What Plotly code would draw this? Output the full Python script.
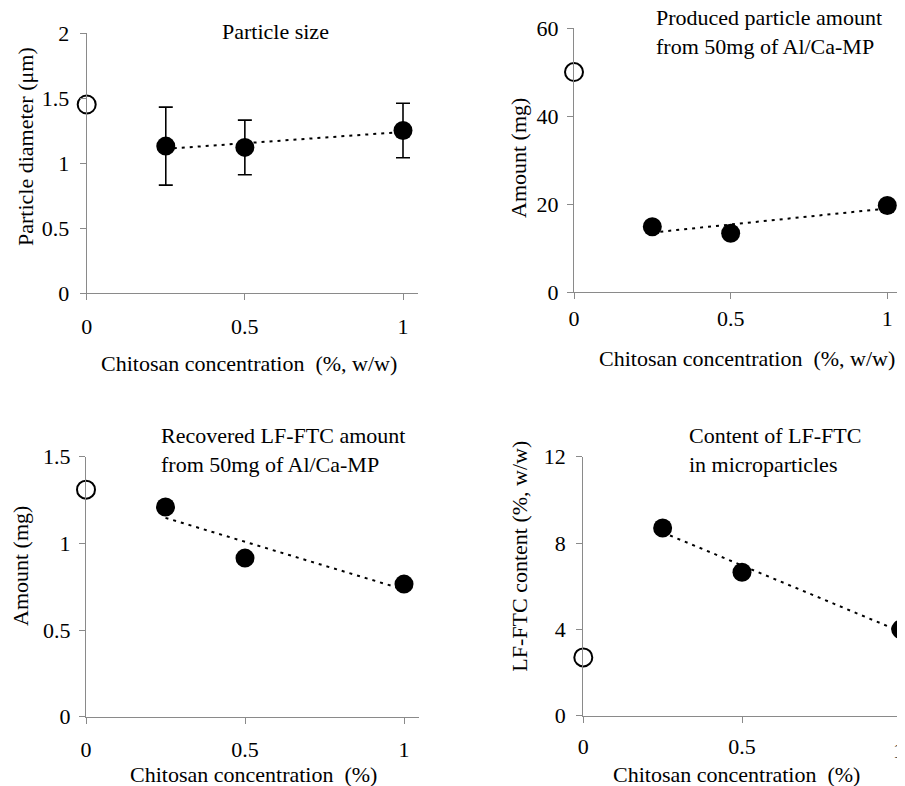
import numpy as np
import plotly.graph_objects as go

# The page body adds an 8px margin, so the figure is drawn 8px smaller and
# all reference pixel positions are shifted by that offset.
OFF = 8
W, H = 905 - OFF, 786 - OFF
FONT = "Liberation Serif"

# ---- data ----
conc = [0.25, 0.5, 1.0]
control_x = [0]

size_control = [1.45]
size_vals = [1.13, 1.12, 1.25]
size_err = [0.30, 0.21, 0.21]

prod_control = [50.0]
prod_vals = [14.9, 13.4, 19.7]

recov_control = [1.31]
recov_vals = [1.21, 0.915, 0.765]

content_control = [2.7]
content_vals = [8.7, 6.65, 4.0]

x_ticks = [0, 0.5, 1]
x_ticklabels = ["0", "0.5", "1"]

panels = [
    dict(ctrl=size_control, vals=size_vals, err=size_err,
         yticks=[0, 0.5, 1, 1.5, 2], ylabels=["0", "0.5", "1", "1.5", "2"], ymax=2,
         px0=86.7, px1=403, pxend=418, py0=293, pytop=33,
         title="Particle size", tx=275, ty=32, talign="center",
         ytitle="Particle diameter (μm)", ytx=25, yty=147,
         xtitle="Chitosan concentration  (%, w/w)", xtx=249, xty=363, xstand=7, ystand=6),
    dict(ctrl=prod_control, vals=prod_vals, err=None,
         yticks=[0, 20, 40, 60], ylabels=["0", "20", "40", "60"], ymax=60,
         px0=574, px1=887.3, pxend=905, py0=292.3, pytop=28,
         title="Produced particle amount<br>from 50mg of Al/Ca-MP", tx=654, ty=32, talign="left",
         ytitle="Amount (mg)", ytx=518, yty=158,
         xtitle="Chitosan concentration  (%, w/w)", xtx=747, xty=358, xstand=0, ystand=4),
    dict(ctrl=recov_control, vals=recov_vals, err=None,
         yticks=[0, 0.5, 1, 1.5], ylabels=["0", "0.5", "1", "1.5"], ymax=1.5,
         px0=86, px1=404, pxend=419, py0=716.7, pytop=456.7,
         title="Recovered LF-FTC amount<br>from 50mg of Al/Ca-MP", tx=159, ty=450, talign="left",
         ytitle="Amount (mg)", ytx=20, yty=566,
         xtitle="Chitosan concentration  (%)", xtx=254, xty=774, xstand=7, ystand=4),
    dict(ctrl=content_control, vals=content_vals, err=None,
         yticks=[0, 4, 8, 12], ylabels=["0", "4", "8", "12"], ymax=12,
         px0=583.3, px1=900.7, pxend=905, py0=715.7, pytop=456.7,
         title="Content of LF-FTC<br>in microparticles", tx=687, ty=450, talign="left",
         ytitle="LF-FTC content (%, w/w)", ytx=520, yty=556.7,
         xtitle="Chitosan concentration  (%)", xtx=736.5, xty=774, xstand=5, ystand=6,
         edge_label_y=750),
]

fig = go.Figure()
annotations = []

def px_x(p):
    return min(1.0, (p - OFF) / W)

def px_y(p):
    return 1 - (p - OFF) / H

for i, p in enumerate(panels, start=1):
    xa = "x" if i == 1 else f"x{i}"
    ya = "y" if i == 1 else f"y{i}"
    xkey = "xaxis" if i == 1 else f"xaxis{i}"
    ykey = "yaxis" if i == 1 else f"yaxis{i}"
    xmax = (p["pxend"] - p["px0"]) / (p["px1"] - p["px0"])

    # trend line (linear fit of the chitosan points)
    slope, icpt = np.polyfit(conc, p["vals"], 1)
    tx_ = [conc[0], conc[-1]]
    fig.add_trace(go.Scatter(x=tx_, y=[slope * v + icpt for v in tx_], mode="lines",
                             line=dict(color="black", width=2, dash="3px,5px"),
                             xaxis=xa, yaxis=ya, showlegend=False, hoverinfo="skip",
                             cliponaxis=False))
    # filled points
    sc = dict(x=conc, y=p["vals"], mode="markers",
              marker=dict(color="black", size=19, line=dict(width=0)),
              xaxis=xa, yaxis=ya, showlegend=False, cliponaxis=False)
    if p["err"] is not None:
        sc["error_y"] = dict(type="data", array=p["err"], visible=True,
                             color="black", thickness=1.6, width=7)
    fig.add_trace(go.Scatter(**sc))
    # control (open circle)
    fig.add_trace(go.Scatter(x=control_x, y=p["ctrl"], mode="markers",
                             marker=dict(color="white", size=18, line=dict(color="black", width=2)),
                             xaxis=xa, yaxis=ya, showlegend=False, cliponaxis=False))

    axis_common = dict(showgrid=False, zeroline=False, showline=True, linecolor="#8a8a8a",
                       linewidth=1.2, ticks="outside", ticklen=6, tickwidth=1.2,
                       tickcolor="#8a8a8a", automargin=False,
                       tickfont=dict(family=FONT, size=22, color="black"))
    fig.layout[xkey] = dict(**axis_common,
                            domain=[px_x(p["px0"]), px_x(p["pxend"])],
                            range=[0, xmax], tickvals=x_ticks, ticktext=x_ticklabels,
                            anchor=ya, ticklabelstandoff=p["xstand"])
    fig.layout[ykey] = dict(**axis_common,
                            domain=[px_y(p["py0"]), px_y(p["pytop"])],
                            range=[0, p["ymax"]], tickvals=p["yticks"], ticktext=p["ylabels"],
                            anchor=xa, ticklabelstandoff=p["ystand"])

    # the last tick label sits on the page edge (plotly hides it), so draw it as text
    if "edge_label_y" in p:
        annotations.append(dict(text=x_ticklabels[-1], x=1.0, xref="paper",
                                y=px_y(p["edge_label_y"]), yref="paper", showarrow=False,
                                xanchor="right", yanchor="middle", borderpad=0,
                                font=dict(family=FONT, size=22, color="black")))

    annotations.append(dict(text=p["title"], x=px_x(p["tx"]), y=px_y(p["ty"]),
                            xref="paper", yref="paper", showarrow=False,
                            xanchor="center" if p["talign"] == "center" else "left",
                            yanchor="middle", align=p["talign"],
                            font=dict(family=FONT, size=22, color="black")))
    annotations.append(dict(text=p["ytitle"], x=px_x(p["ytx"]), y=px_y(p["yty"]),
                            xref="paper", yref="paper", showarrow=False, textangle=-90,
                            xanchor="center", yanchor="middle",
                            font=dict(family=FONT, size=22, color="black")))
    annotations.append(dict(text=p["xtitle"], x=px_x(p["xtx"]), y=px_y(p["xty"]),
                            xref="paper", yref="paper", showarrow=False,
                            xanchor="center", yanchor="middle",
                            font=dict(family=FONT, size=22, color="black")))

fig.update_layout(width=W, height=H, margin=dict(l=0, r=0, t=0, b=0, autoexpand=False),
                  paper_bgcolor="white", plot_bgcolor="white",
                  annotations=annotations, showlegend=False)

fig.write_html("out.html")
